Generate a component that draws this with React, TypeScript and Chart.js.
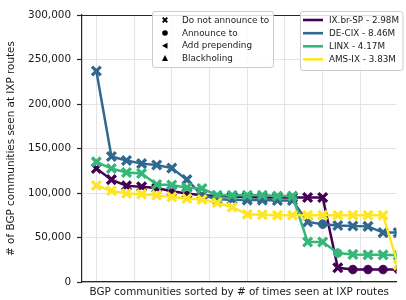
import React, { useEffect, useRef } from 'react';
import { Chart, registerables } from 'chart.js';

Chart.register(...registerables);

// ---------- data ----------
const seriesNames = ['IX.br-SP - 2.98M', 'DE-CIX - 8.46M', 'LINX - 4.17M', 'AMS-IX - 3.83M'];
const seriesColors = ['#440154', '#31688e', '#35b779', '#fde725'];

const ixbrSp = [127500, 115000, 108000, 107000, 105500, 102000, 99500, 97500, 96500, 96000, 95500, 95000, 95000, 95000, 95000, 95000, 16000, 14000, 14000, 14000, 14000];
const deCix = [237000, 141000, 136500, 133000, 131500, 128000, 115000, 98000, 93000, 92500, 92000, 92000, 91500, 91500, 67500, 65000, 63500, 63000, 62500, 55500, 55500];
const linx = [135000, 127500, 123000, 122000, 109500, 109000, 106000, 105000, 97500, 97500, 97500, 97500, 96500, 96500, 45000, 45000, 32500, 31000, 30500, 30500, 30000];
const amsIx = [108500, 102500, 99500, 98700, 97600, 95600, 93800, 92700, 89000, 84000, 76000, 75500, 75000, 75000, 75000, 75000, 75000, 75000, 75000, 75000, 19000];

// marker per point: x = Do not announce to, o = Announce to
const ixbrSpMarkers = ['x', 'x', 'x', 'x', 'x', 'x', 'x', 'x', 'x', 'x', 'x', 'x', 'x', 'x', 'x', 'x', 'x', 'o', 'o', 'o', 'o'];
const deCixMarkers = ['x', 'x', 'x', 'x', 'x', 'x', 'x', 'x', 'x', 'x', 'x', 'x', 'x', 'x', 'x', 'o', 'x', 'x', 'x', 'x', 'x'];
const linxMarkers = ['x', 'x', 'x', 'x', 'x', 'x', 'x', 'x', 'x', 'x', 'x', 'x', 'x', 'x', 'x', 'x', 'o', 'x', 'x', 'x', 'x'];
const amsIxMarkers = ['x', 'x', 'x', 'x', 'x', 'x', 'x', 'x', 'x', 'x', 'x', 'x', 'x', 'x', 'x', 'x', 'x', 'x', 'x', 'x', 'x'];

const markerLegendLabels = ['Do not announce to', 'Announce to', 'Add prepending', 'Blackholing'];
const markerLegendShapes = ['x', 'o', '<', '^'];

const yTickValues = [0, 50000, 100000, 150000, 200000, 250000, 300000];
const xGridValues = [0, 2.5, 5, 7.5, 10, 12.5, 15, 17.5];

const xTitle = 'BGP communities sorted by # of times seen at IXP routes';
const yTitle = '# of BGP communities seen at IXP routes';

const FONT = '"DejaVu Sans", sans-serif';

function drawMarker(ctx: CanvasRenderingContext2D, shape: string, x: number, y: number) {
  ctx.save();
  ctx.fillStyle = '#000';
  ctx.strokeStyle = '#000';
  ctx.beginPath();
  if (shape === 'x') {
    ctx.lineWidth = 1.9;
    ctx.moveTo(x - 2.3, y - 2.3); ctx.lineTo(x + 2.3, y + 2.3);
    ctx.moveTo(x + 2.3, y - 2.3); ctx.lineTo(x - 2.3, y + 2.3);
    ctx.stroke();
  } else if (shape === 'o') {
    ctx.arc(x, y, 2.8, 0, Math.PI * 2);
    ctx.fill();
  } else if (shape === '<') {
    ctx.moveTo(x - 3, y); ctx.lineTo(x + 2.5, y - 3); ctx.lineTo(x + 2.5, y + 3); ctx.closePath();
    ctx.fill();
  } else {
    ctx.moveTo(x, y - 3.2); ctx.lineTo(x + 3, y + 2.6); ctx.lineTo(x - 3, y + 2.6); ctx.closePath();
    ctx.fill();
  }
  ctx.restore();
}

function roundBox(ctx: CanvasRenderingContext2D, x: number, y: number, w: number, h: number, r: number) {
  ctx.beginPath();
  ctx.moveTo(x + r, y);
  ctx.lineTo(x + w - r, y); ctx.quadraticCurveTo(x + w, y, x + w, y + r);
  ctx.lineTo(x + w, y + h - r); ctx.quadraticCurveTo(x + w, y + h, x + w - r, y + h);
  ctx.lineTo(x + r, y + h); ctx.quadraticCurveTo(x, y + h, x, y + h - r);
  ctx.lineTo(x, y + r); ctx.quadraticCurveTo(x, y, x + r, y);
  ctx.closePath();
  ctx.fillStyle = 'rgba(255,255,255,0.85)';
  ctx.fill();
  ctx.strokeStyle = '#cccccc';
  ctx.lineWidth = 1;
  ctx.stroke();
}

const framePlugin = {
  id: 'framePlugin',
  beforeDatasetsDraw(chart: any) {
    const { ctx, chartArea } = chart;
    ctx.save();
    ctx.strokeStyle = '#262626';
    ctx.lineWidth = 1.2;
    ctx.beginPath();
    ctx.moveTo(chartArea.left, chartArea.top + 0.5);
    ctx.lineTo(chartArea.right, chartArea.top + 0.5);
    ctx.stroke();
    ctx.restore();
  },
  afterDraw(chart: any) {
    const ctx: CanvasRenderingContext2D = chart.ctx;
    ctx.save();
    ctx.font = `8.8px ${FONT}`;
    ctx.textBaseline = 'middle';
    ctx.textAlign = 'left';
    // marker legend
    roundBox(ctx, 152.5, 11.5, 121, 56, 2.5);
    const rowsL = [20, 33, 45.7, 58.3];
    markerLegendLabels.forEach((label, i) => {
      drawMarker(ctx, markerLegendShapes[i], 165, rowsL[i]);
      ctx.fillStyle = '#222';
      ctx.fillText(label, 182, rowsL[i] + 0.5);
    });
    // series legend
    roundBox(ctx, 300.5, 11.5, 102.5, 59, 2.5);
    const rowsR = [20, 33.2, 46.3, 59.3];
    seriesNames.forEach((label, i) => {
      ctx.strokeStyle = seriesColors[i];
      ctx.lineWidth = 2.6;
      ctx.beginPath();
      ctx.moveTo(303, rowsR[i]);
      ctx.lineTo(323, rowsR[i]);
      ctx.stroke();
      ctx.fillStyle = '#222';
      ctx.fillText(label, 329, rowsR[i] + 0.5);
    });
    ctx.restore();
  },
};

export default function App() {
  const canvasRef = useRef<HTMLCanvasElement | null>(null);

  useEffect(() => {
    const canvas = canvasRef.current;
    if (!canvas) return;
    const values = [ixbrSp, deCix, linx, amsIx];
    const markers = [ixbrSpMarkers, deCixMarkers, linxMarkers, amsIxMarkers];

    const datasets = values.map((vals, s) => ({
      label: seriesNames[s],
      data: vals.map((v, i) => ({ x: i, y: v })),
      borderColor: seriesColors[s],
      backgroundColor: seriesColors[s],
      borderWidth: 2.5,
      tension: 0,
      fill: false,
      order: 3 - s,
      pointStyle: (c: any) => (markers[s][c.dataIndex] === 'o' ? 'circle' : 'crossRot'),
      pointRadius: (c: any) => (markers[s][c.dataIndex] === 'o' ? 4.3 : 6.2),
      pointBorderWidth: (c: any) => (markers[s][c.dataIndex] === 'o' ? 1 : 3.3),
      pointBackgroundColor: seriesColors[s],
      pointBorderColor: seriesColors[s],
    }));

    const chart = new Chart(canvas, {
      type: 'line',
      data: { datasets },
      plugins: [framePlugin],
      options: {
        animation: false,
        responsive: false,
        maintainAspectRatio: false,
        layout: { padding: { top: 15, right: 0, bottom: 0, left: 0 } },
        plugins: {
          legend: { display: false },
          tooltip: { enabled: false },
        },
        scales: {
          x: {
            type: 'linear',
            min: -0.95,
            max: 19.89,
            afterBuildTicks: (axis: any) => {
              axis.ticks = xGridValues.map((v) => ({ value: v }));
            },
            afterFit: (axis: any) => {
              axis.height = 18;
            },
            ticks: { display: false },
            grid: { color: '#e4e4e4', lineWidth: 1, drawTicks: false },
            border: { display: true, color: '#262626', width: 1.2 },
            title: {
              display: true,
              text: xTitle,
              color: '#1a1a1a',
              font: { family: FONT, size: 10.4 },
              padding: { top: 0, bottom: 1.5 },
            },
          },
          y: {
            type: 'linear',
            min: 0,
            max: 300000,
            afterBuildTicks: (axis: any) => {
              axis.ticks = yTickValues.map((v) => ({ value: v }));
            },
            afterFit: (axis: any) => {
              axis.width = 82;
            },
            ticks: {
              color: '#1a1a1a',
              font: { family: FONT, size: 10.4 },
              padding: 6,
              callback: (v: any) => Number(v).toLocaleString('en-US'),
            },
            grid: { color: '#e4e4e4', lineWidth: 1, drawTicks: true, tickLength: 5, tickColor: '#262626', tickWidth: 1.2 },
            border: { display: true, color: '#262626', width: 1.2 },
            title: {
              display: true,
              text: yTitle,
              color: '#1a1a1a',
              font: { family: FONT, size: 10.4 },
              padding: { top: 5, bottom: 0 },
            },
          },
        },
      },
    });
    return () => chart.destroy();
  }, []);

  return (
    <div style={{ position: 'absolute', left: 0, top: 0, width: 406, height: 300, background: '#fff' }}>
      <canvas ref={canvasRef} width={406} height={300} style={{ display: 'block', width: 406, height: 300 }} />
    </div>
  );
}
